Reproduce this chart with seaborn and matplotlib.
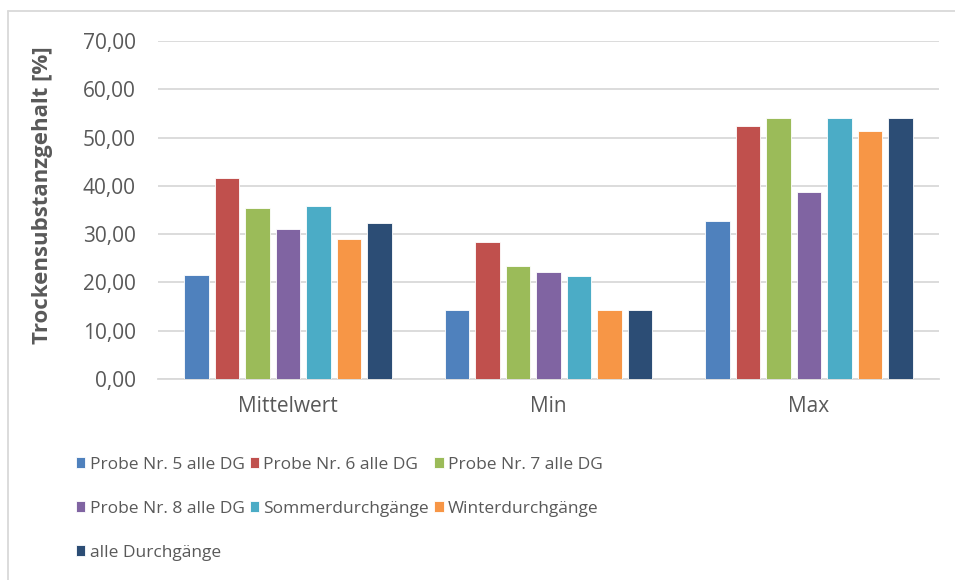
import matplotlib
matplotlib.use("Agg")
import matplotlib.pyplot as plt
import pandas as pd
import seaborn as sns
from matplotlib.lines import Line2D
from matplotlib.ticker import FuncFormatter

# Data
kennwerte = ["Mittelwert", "Min", "Max"]
serien = ["Probe Nr. 5 alle DG", "Probe Nr. 6 alle DG", "Probe Nr. 7 alle DG",
          "Probe Nr. 8 alle DG", "Sommerdurchgänge", "Winterdurchgänge",
          "alle Durchgänge"]
mittelwert = [21.5, 41.6, 35.4, 31.1, 35.9, 29.0, 32.4]
minimum = [14.3, 28.3, 23.5, 22.2, 21.4, 14.3, 14.3]
maximum = [32.7, 52.3, 54.0, 38.7, 54.0, 51.4, 54.0]
farben = ["#4F81BD", "#C0504D", "#9BBB59", "#8064A2", "#4BACC6", "#F79646", "#2C4D75"]

rows = []
for k, vals in zip(kennwerte, [mittelwert, minimum, maximum]):
    for s, v in zip(serien, vals):
        rows.append({"Kennwert": k, "Serie": s, "TS": v})
df = pd.DataFrame(rows)

sns.set_theme(style="white")
plt.rcParams["font.family"] = ["Open Sans", "DejaVu Sans"]

fig = plt.figure(figsize=(9.55, 5.8), dpi=100)
ax = fig.add_axes([158 / 955, 1 - 379 / 580, 781 / 955, 338 / 580])

sns.barplot(data=df, x="Kennwert", y="TS", hue="Serie", palette=farben,
            width=0.82, gap=0.2, saturation=1, edgecolor="white",
            linewidth=0.6, ax=ax, zorder=3)

ax.set_ylim(0, 70)
ax.set_yticks(range(0, 71, 10))
ax.yaxis.set_major_formatter(FuncFormatter(lambda v, _: f"{v:.2f}".replace(".", ",")))
ax.grid(axis="y", color="#D9D9D9", linewidth=1.3, zorder=0)
ax.set_axisbelow(True)
for side in ["top", "right", "left"]:
    ax.spines[side].set_visible(False)
ax.spines["bottom"].set_color("#D9D9D9")
ax.spines["bottom"].set_linewidth(1.3)
ax.tick_params(axis="both", length=0, labelsize=15, colors="#595959")
ax.tick_params(axis="y", pad=16)
ax.tick_params(axis="x", pad=12)
ax.set_xlabel("")
ax.set_ylabel("Trockensubstanzgehalt [%]", fontsize=16, fontweight="bold",
              color="#595959")
ax.yaxis.set_label_coords(-0.134, 0.544)

# Legend below, row-wise order like Excel
handles, labels = ax.get_legend_handles_labels()
ax.legend_.remove()
order = [0, 3, 6, 1, 4, 2, 5]
fig.legend([handles[i] for i in order], [labels[i] for i in order],
           ncol=3, loc="upper left", bbox_to_anchor=(60 / 955, 1 - 441 / 580),
           frameon=False, handlelength=0.55, handleheight=0.6,
           handletextpad=0.25, columnspacing=0.3, labelspacing=1.62,
           prop={"size": 12.5}, labelcolor="#595959")

# chart frame
fig.add_artist(Line2D([8 / 955, 8 / 955], [0, 1 - 11 / 580], color="#D9D9D9", linewidth=1.3))
fig.add_artist(Line2D([8 / 955, 1], [1 - 11 / 580, 1 - 11 / 580], color="#D9D9D9", linewidth=1.3))

fig.savefig("out.png", dpi=100)
